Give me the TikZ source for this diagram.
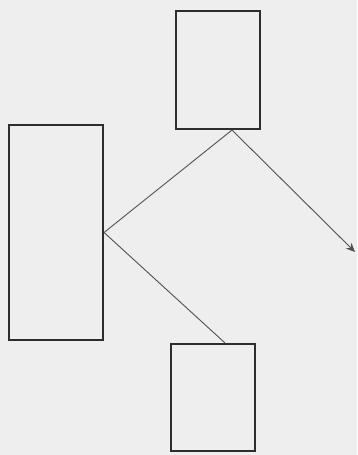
\documentclass[tikz,border=0pt]{standalone}
\usetikzlibrary{arrows.meta}
\definecolor{paper}{RGB}{238,238,238}
\definecolor{ink}{RGB}{45,45,45}
\definecolor{thin}{RGB}{80,80,80}
\begin{document}
\begin{tikzpicture}[x=1pt,y=1pt,
  box/.style={draw=ink,line width=2.1pt,fill=paper,inner sep=0pt,rectangle},
  conn/.style={draw=thin,line width=0.9pt}]
\fill[paper] (0,0) rectangle (357,455);
\useasboundingbox (0,0) rectangle (357,455);
\node[box,minimum width=94pt,minimum height=215pt] (left) at (56,222.5) {};
\node[box,minimum width=84pt,minimum height=118pt] (top) at (218,385) {};
\node[box,minimum width=84pt,minimum height=107pt] (bot) at (213,57.5) {};
\coordinate (tp) at ([xshift=14pt]top.south);
\coordinate (bp) at ([xshift=12pt]bot.north);
\coordinate (end) at (355,203);
\draw[conn] (left.east) -- (tp);
\draw[conn] (left.east) -- (bp);
\draw[conn,-{Stealth[length=9pt,width=8pt]}] (tp) -- (end);
\end{tikzpicture}
\end{document}
